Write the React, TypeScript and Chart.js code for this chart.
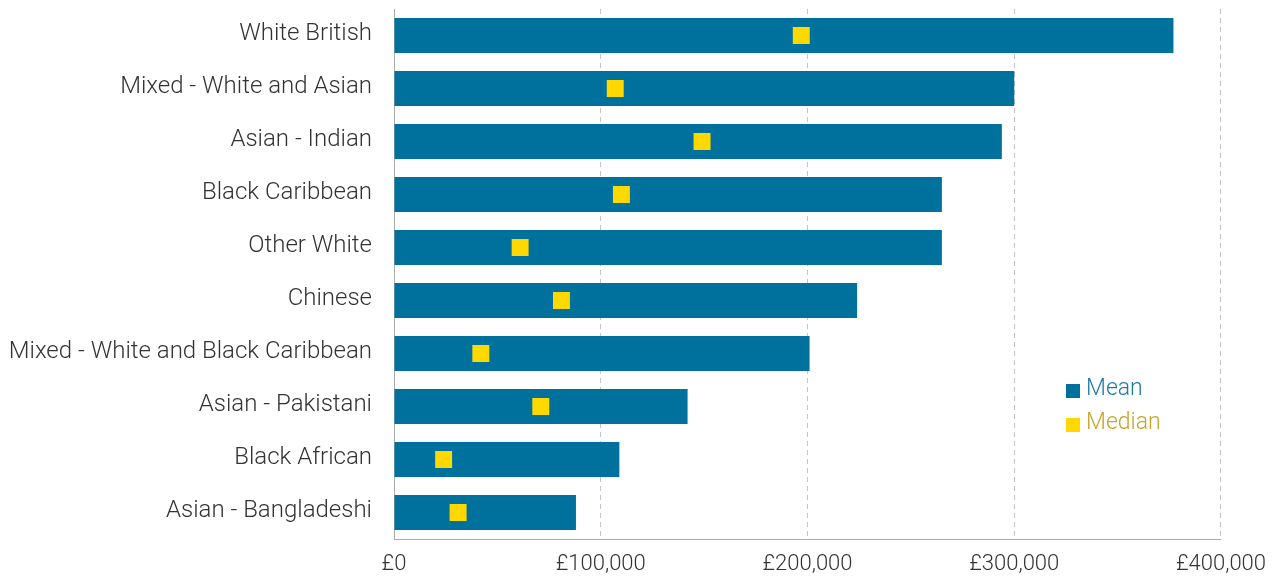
import React, { useEffect, useRef } from "react";
import { Chart, registerables } from "chart.js";

Chart.register(...registerables);

const categories = [
  "White British",
  "Mixed - White and Asian",
  "Asian - Indian",
  "Black Caribbean",
  "Other White",
  "Chinese",
  "Mixed - White and Black Caribbean",
  "Asian - Pakistani",
  "Black African",
  "Asian - Bangladeshi",
];

const meanValues = [377000, 300000, 294000, 265000, 265000, 224000, 201000, 142000, 109000, 88000];
const medianValues = [197000, 107000, 149000, 110000, 61000, 81000, 42000, 71000, 24000, 31000];

const xTicks = [0, 100000, 200000, 300000, 400000];

const BLUE = "#00709c";
const YELLOW = "#ffd800";
const FONT = "Roboto, sans-serif";

const legendPlugin = {
  id: "customLegend",
  afterDraw(chart: any) {
    const ctx = chart.ctx;
    const items = [
      { label: "Mean", box: BLUE, text: "#1b7ba3", y: 391 },
      { label: "Median", box: YELLOW, text: "#c4a52a", y: 425 },
    ];
    ctx.save();
    ctx.font = `300 23px ${FONT}`;
    ctx.textBaseline = "middle";
    ctx.textAlign = "left";
    for (const it of items) {
      ctx.fillStyle = it.box;
      ctx.fillRect(1066, it.y - 7, 14, 14);
      ctx.fillStyle = it.text;
      ctx.fillText(it.label, 1086, it.y - 2);
    }
    ctx.restore();
  },
};

export default function App() {
  const canvasRef = useRef<HTMLCanvasElement | null>(null);

  useEffect(() => {
    document.body.style.margin = "0";
    const canvas = canvasRef.current;
    if (!canvas) return;
    const chart = new Chart(canvas, {
      type: "bar",
      data: {
        labels: categories,
        datasets: [
          {
            type: "line",
            label: "Median",
            data: medianValues,
            showLine: false,
            pointStyle: "rect",
            pointRadius: 12,
            pointHoverRadius: 12,
            pointBackgroundColor: YELLOW,
            pointBorderWidth: 0,
            borderColor: YELLOW,
            order: 0,
          } as any,
          {
            type: "bar",
            label: "Mean",
            data: meanValues,
            backgroundColor: BLUE,
            barPercentage: 0.66,
            categoryPercentage: 1,
            order: 1,
          },
        ],
      },
      options: {
        indexAxis: "y",
        animation: false,
        responsive: true,
        maintainAspectRatio: false,
        layout: { autoPadding: false, padding: { top: 9, right: 57, left: 0, bottom: 0 } },
        plugins: {
          legend: { display: false },
          tooltip: { enabled: false },
        },
        scales: {
          x: {
            type: "linear",
            min: 0,
            max: 400000,
            afterBuildTicks: (scale: any) => {
              scale.ticks = xTicks.map((v) => ({ value: v }));
            },
            afterFit: (scale: any) => {
              scale.height = 40;
            },
            ticks: {
              padding: 12,
              color: "#333333",
              font: { family: FONT, size: 22, weight: "300" },
              maxRotation: 0,
              callback: (v: any) => "£" + Number(v).toLocaleString("en-GB"),
            },
            grid: {
              display: true,
              color: "#c4c4c4",
              lineWidth: 1,
              drawTicks: false,
            },
            border: { display: true, color: "#aaaaaa", width: 1, dash: [5, 4] },
          },
          y: {
            type: "category",
            afterFit: (scale: any) => {
              scale.width = 394;
              scale.paddingTop = 0;
              scale.paddingBottom = 0;
            },
            ticks: {
              padding: 22,
              labelOffset: -2,
              color: "#333333",
              font: { family: FONT, size: 24, weight: "300" },
            },
            grid: { display: false, drawTicks: false },
            border: { display: true, color: "#aaaaaa", width: 1 },
          },
        },
      },
      plugins: [legendPlugin],
    } as any);
    return () => chart.destroy();
  }, []);

  return (
    <div style={{ width: 1278, height: 579, position: "relative" }}>
      <canvas ref={canvasRef} />
    </div>
  );
}
